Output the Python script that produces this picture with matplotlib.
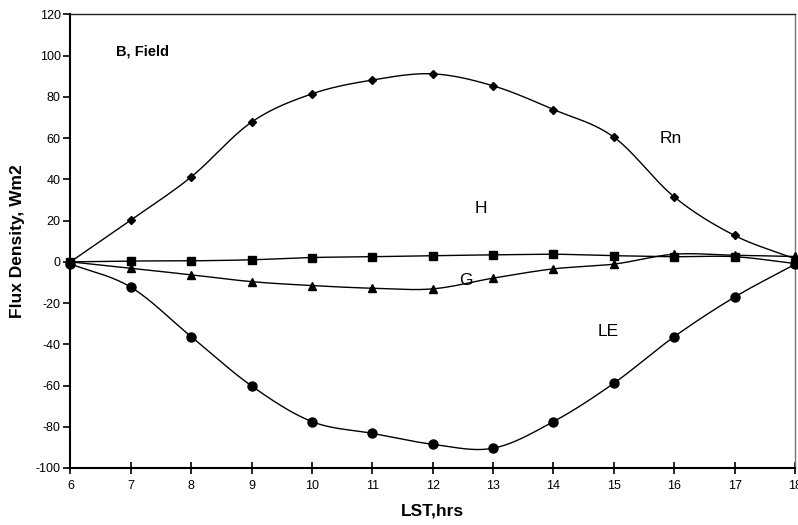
import numpy as np
import matplotlib
matplotlib.use("Agg")
import matplotlib.pyplot as plt

plt.rcParams['font.family'] = ['Liberation Sans', 'DejaVu Sans']
plt.rcParams['axes.unicode_minus'] = False

hours = [6, 7, 8, 9, 10, 11, 12, 13, 14, 15, 16, 17, 18]
rn = [0, 20.3, 41.2, 67.8, 81.5, 88.2, 91.2, 85.4, 73.9, 60.5, 31.5, 12.8, 1.5]
h = [0, 0.4, 0.5, 1.0, 2.1, 2.5, 3.0, 3.4, 3.7, 3.0, 2.5, 2.5, -0.8]
g = [0, -3.1, -6.3, -9.6, -11.5, -12.8, -13.1, -7.9, -3.4, -1.1, 3.7, 3.2, 2.6]
le = [-1, -12.3, -36.3, -60.2, -77.5, -83.2, -88.5, -90.4, -77.5, -58.9, -36.3, -17.1, -1.2]

labels = {"Rn": (15.95, 60), "H": (12.8, 26), "G": (12.55, -9), "LE": (14.9, -34)}


def smooth(x, y, n=30):
    x = np.asarray(x, float); y = np.asarray(y, float)
    px = np.concatenate([[2 * x[0] - x[1]], x, [2 * x[-1] - x[-2]]])
    py = np.concatenate([[2 * y[0] - y[1]], y, [2 * y[-1] - y[-2]]])
    xs, ys = [], []
    t = np.linspace(0, 1, n, endpoint=False)
    for i in range(1, len(px) - 2):
        p0, p1, p2, p3 = px[i - 1], px[i], px[i + 1], px[i + 2]
        q0, q1, q2, q3 = py[i - 1], py[i], py[i + 1], py[i + 2]
        a = lambda a0, a1, a2, a3: 0.5 * ((2 * a1) + (-a0 + a2) * t + (2 * a0 - 5 * a1 + 4 * a2 - a3) * t ** 2 + (-a0 + 3 * a1 - 3 * a2 + a3) * t ** 3)
        xs.append(a(p0, p1, p2, p3)); ys.append(a(q0, q1, q2, q3))
    xs.append([x[-1]]); ys.append([y[-1]])
    return np.concatenate(xs), np.concatenate(ys)


fig = plt.figure(figsize=(7.98, 5.25), dpi=100)
ax = fig.add_axes([0.0883, 0.1086, 0.9079, 0.8638])

series = [(rn, 'D', 4.5), (h, 's', 6), (g, '^', 6), (le, 'o', 6.5)]
for ys, m, ms in series:
    sx, sy = smooth(hours, ys)
    ax.plot(sx, sy, color='black', lw=1.0, clip_on=False, zorder=3)
    ax.plot(hours, ys, linestyle='none', marker=m, ms=ms, color='black', clip_on=False, zorder=4)

ax.set_xlim(6, 18)
ax.set_ylim(-100, 120)
ax.set_xticks(hours)
ax.set_yticks(range(-100, 121, 20))
ax.tick_params(axis='y', direction='out', length=5, width=1.2, labelsize=9, pad=2)
ax.tick_params(axis='x', direction='inout', length=8, width=1.2, labelsize=9, pad=5)

for s in ['left', 'bottom']:
    ax.spines[s].set_linewidth(1.5)
    ax.spines[s].set_color('black')
ax.spines['top'].set_linewidth(1.0)
ax.spines['top'].set_color('#222222')
ax.spines['right'].set_linewidth(1.0)
ax.spines['right'].set_color('#777777')

ax.set_xlabel('LST,hrs', fontsize=12.5, fontweight='bold', labelpad=8)
ax.set_ylabel('Flux Density, Wm2', fontsize=12.5, fontweight='bold', labelpad=8)

for k, (x, y) in labels.items():
    ax.text(x, y, k, fontsize=12.5, ha='center', va='center')
ax.text(7.2, 102, 'B, Field', fontsize=10.5, fontweight='bold', ha='center', va='center')

fig.savefig('out.png', dpi=100)
